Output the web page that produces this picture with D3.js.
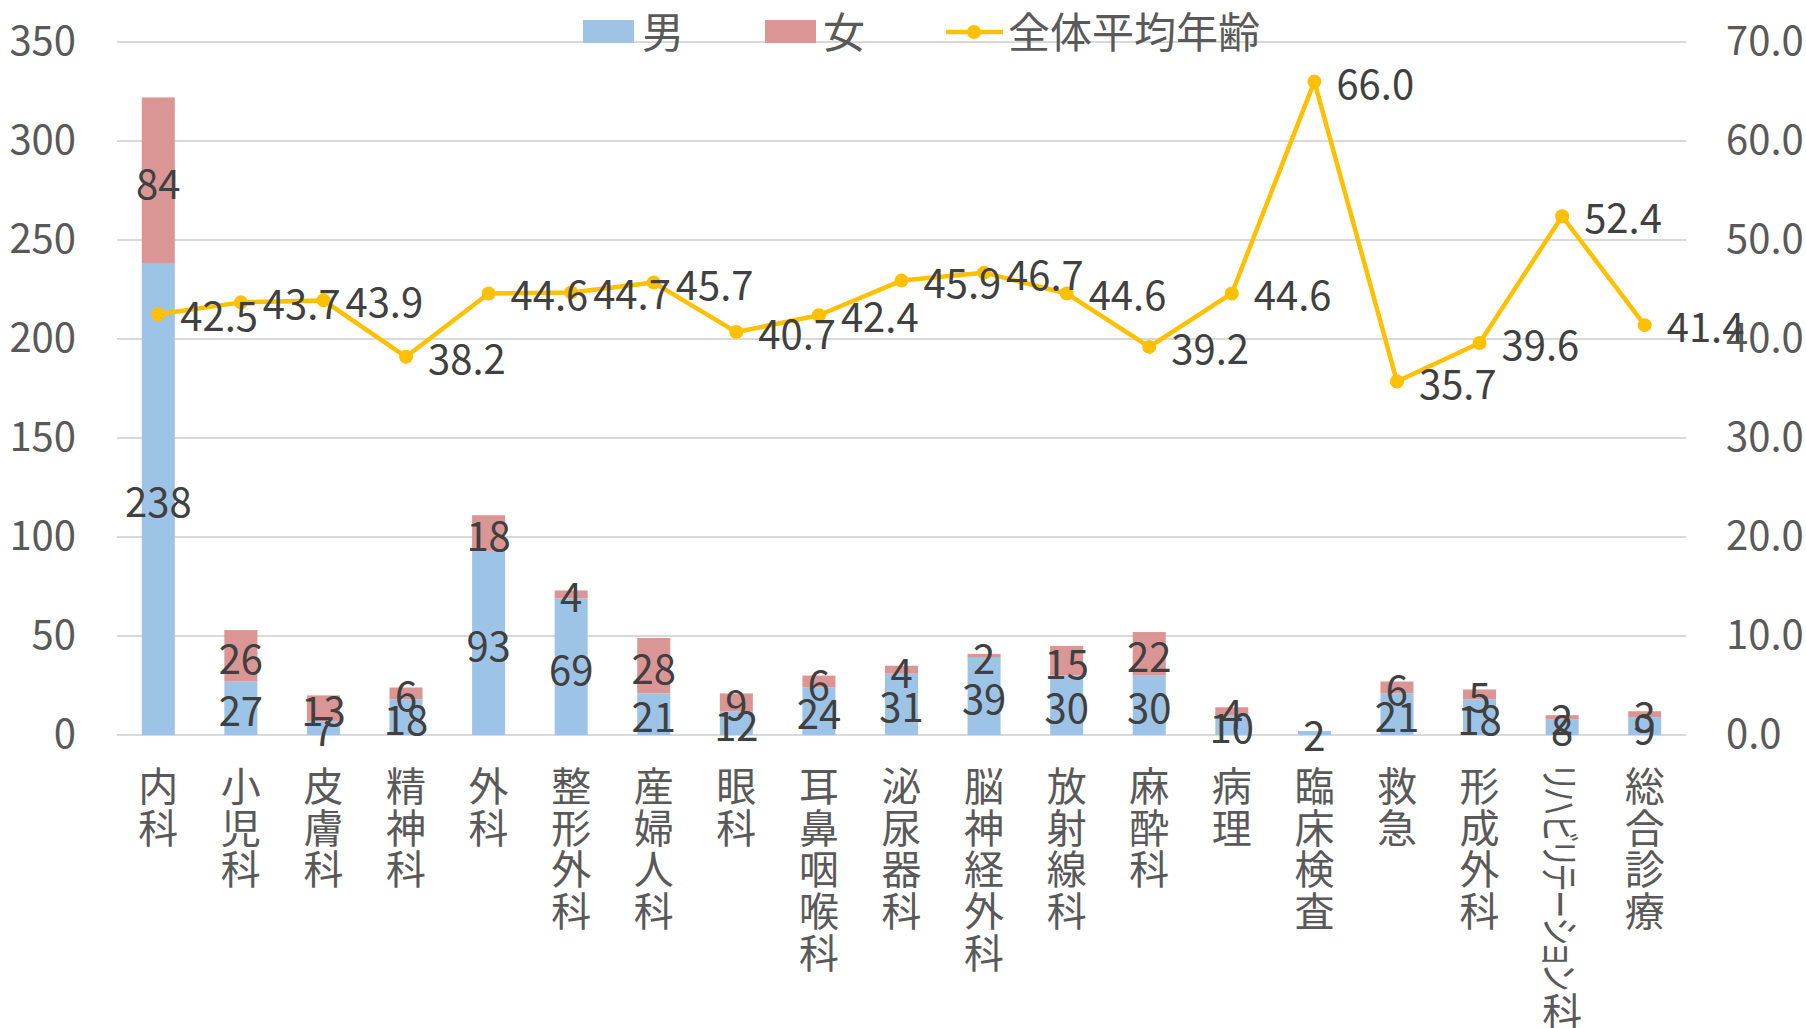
<!DOCTYPE html>
<html>
<head>
<meta charset="utf-8">
<script src="https://cdn.jsdelivr.net/npm/d3@7"></script>
<style>
  body { margin: 0; background: #fff; }
  svg { display: block; }
</style>
</head>
<body>
<svg id="chart" width="1806" height="1028"></svg>
<script>
// data
const departments = ["内科", "小児科", "皮膚科", "精神科", "外科", "整形外科", "産婦人科", "眼科",
  "耳鼻咽喉科", "泌尿器科", "脳神経外科", "放射線科", "麻酔科", "病理", "臨床検査", "救急",
  "形成外科", "リハビリテーション科", "総合診療"];
const male   = [238, 27, 7, 18, 93, 69, 21, 12, 24, 31, 39, 30, 30, 10, 2, 21, 18, 8, 9];
const female = [84, 26, 13, 6, 18, 4, 28, 9, 6, 4, 2, 15, 22, 4, 0, 6, 5, 2, 3];
const avgAge = [42.5, 43.7, 43.9, 38.2, 44.6, 44.7, 45.7, 40.7, 42.4, 45.9, 46.7, 44.6, 39.2,
  44.6, 66.0, 35.7, 39.6, 52.4, 41.4];
const leftTicks = [0, 50, 100, 150, 200, 250, 300, 350];
const rightTicks = [0, 10, 20, 30, 40, 50, 60, 70];

const font = "'Noto Sans CJK JP', 'Noto Sans', sans-serif";
const blue = "#9dc3e6", red = "#da9694", gold = "#ffc000";

const svg = d3.select("#chart").style("font-family", font);

const x = d3.scaleBand().domain(departments).range([117, 1686])
  .paddingInner(0.6).paddingOuter(0.3);
const y = d3.scaleLinear().domain([0, 350]).range([735, 42]);
const y2 = d3.scaleLinear().domain([0, 70]).range([735, 42]);

// gridlines
svg.append("g").selectAll("line").data(leftTicks).join("line")
  .attr("x1", 117).attr("x2", 1686)
  .attr("y1", d => y(d)).attr("y2", d => y(d))
  .attr("stroke", "#d9d9d9").attr("stroke-width", 2);

// axes
const left = svg.append("g").attr("transform", "translate(117,0)")
  .call(d3.axisLeft(y).tickValues(leftTicks).tickSize(0).tickPadding(41));
const right = svg.append("g").attr("transform", "translate(1686,0)")
  .call(d3.axisRight(y2).tickValues(rightTicks).tickSize(0).tickPadding(40)
    .tickFormat(d3.format(".1f")));
[left, right].forEach(g => {
  g.select(".domain").remove();
  g.selectAll("text").attr("fill", "#595959").style("font-size", "40px")
    .style("font-family", font);
});

// stacked bars
const rows = departments.map((d, i) => ({ dept: d, male: male[i], female: female[i] }));
const stacked = d3.stack().keys(["male", "female"])(rows);
const colors = { male: blue, female: red };

const layers = svg.append("g").selectAll("g").data(stacked).join("g")
  .attr("fill", s => colors[s.key]);
layers.selectAll("rect").data(s => s).join("rect")
  .attr("x", d => x(d.data.dept))
  .attr("width", x.bandwidth())
  .attr("y", d => y(d[1]))
  .attr("height", d => y(d[0]) - y(d[1]));

// bar value labels
const segLabels = [];
stacked.forEach(s => s.forEach(d => {
  const v = d[1] - d[0];
  if (v > 0) segLabels.push({ dept: d.data.dept, v, mid: (d[0] + d[1]) / 2 });
}));
svg.append("g").selectAll("text").data(segLabels).join("text")
  .attr("x", d => x(d.dept) + x.bandwidth() / 2)
  .attr("y", d => y(d.mid) + 1)
  .attr("text-anchor", "middle")
  .attr("dominant-baseline", "central")
  .attr("fill", "#404040")
  .style("font-size", "40px")
  .text(d => d.v);

// average age line
const cx = d => x(d) + x.bandwidth() / 2;
const line = d3.line().x((d, i) => cx(departments[i])).y(d => y2(d));
svg.append("path").datum(avgAge)
  .attr("d", line).attr("fill", "none")
  .attr("stroke", gold).attr("stroke-width", 4.5).attr("stroke-linejoin", "round");
svg.append("g").selectAll("circle").data(avgAge).join("circle")
  .attr("cx", (d, i) => cx(departments[i])).attr("cy", d => y2(d))
  .attr("r", 7).attr("fill", gold);
svg.append("g").selectAll("text").data(avgAge).join("text")
  .attr("x", (d, i) => cx(departments[i]) + 22)
  .attr("y", d => y2(d))
  .attr("dominant-baseline", "central")
  .attr("fill", "#404040")
  .style("font-size", "40px")
  .text(d => d.toFixed(1));

// category labels, written top to bottom
const catTop = 784, pitch = 41.7;
const cats = svg.append("g").attr("fill", "#595959").style("font-size", "40px");
departments.forEach(dep => {
  const m = dep.match(/^([ァ-ヶー]+)(.*)$/);
  let start = catTop;
  let rest = dep;
  if (m) {
    // katakana run lies sideways
    const len = 225;
    cats.append("text")
      .attr("transform", `translate(${cx(dep)},${catTop - 19}) rotate(90)`)
      .attr("dominant-baseline", "central")
      .attr("textLength", len)
      .attr("lengthAdjust", "spacingAndGlyphs")
      .style("font-feature-settings", "'palt'")
      .text(m[1]);
    start = catTop - 19 + len + 20;
    rest = m[2];
  }
  const t = cats.append("text").attr("text-anchor", "middle").attr("dominant-baseline", "central");
  t.selectAll("tspan").data(Array.from(rest)).join("tspan")
    .attr("x", cx(dep))
    .attr("y", (c, i) => start + i * pitch)
    .text(c => c);
});

// legend
const legend = svg.append("g").style("font-size", "42px").attr("fill", "#595959");
legend.append("rect").attr("x", 583).attr("y", 20).attr("width", 51).attr("height", 23).attr("fill", blue);
legend.append("text").attr("x", 642).attr("y", 29).attr("dominant-baseline", "central").text("男");
legend.append("rect").attr("x", 765).attr("y", 20).attr("width", 51).attr("height", 23).attr("fill", red);
legend.append("text").attr("x", 823).attr("y", 29).attr("dominant-baseline", "central").text("女");
legend.append("line").attr("x1", 946).attr("x2", 1003).attr("y1", 32).attr("y2", 32)
  .attr("stroke", gold).attr("stroke-width", 4.5);
legend.append("circle").attr("cx", 974).attr("cy", 32).attr("r", 7).attr("fill", gold);
legend.append("text").attr("x", 1008).attr("y", 29).attr("dominant-baseline", "central").text("全体平均年齢");
</script>
</body>
</html>
